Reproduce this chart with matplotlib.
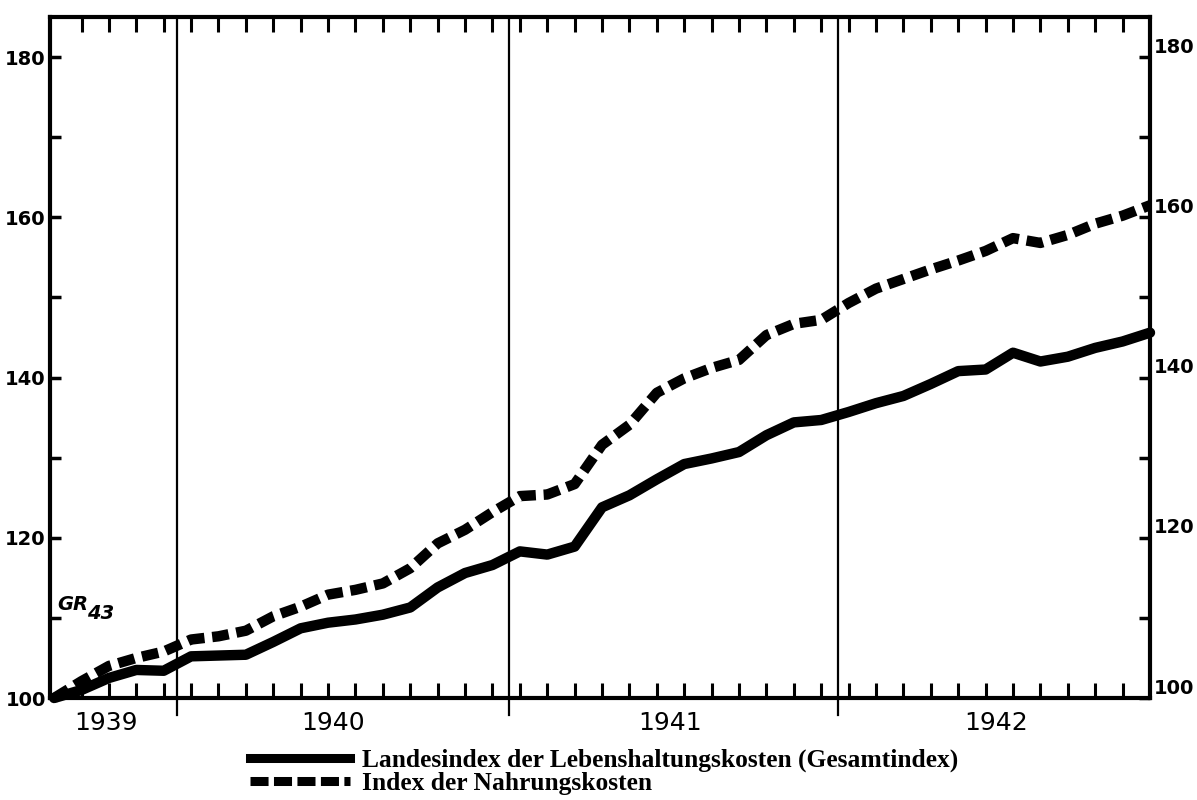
import numpy as np
import matplotlib
matplotlib.use("Agg")
import matplotlib.pyplot as plt
import matplotlib.transforms as mtransforms
from matplotlib.lines import Line2D

# months since Jan 1939, plotted at month centres (Aug 1939 .. Dec 1942)
months = np.arange(7, 48) + 0.5

# Landesindex der Lebenshaltungskosten (Gesamtindex), Aug 1939 = 100
gesamt = [100, 101, 102.5, 103.5, 103.4,
          105.2, 105.3, 105.4, 107.0, 108.7, 109.4, 109.8, 110.4, 111.3, 113.8, 115.6, 116.6,
          118.3, 117.9, 118.9, 123.8, 125.3, 127.3, 129.2, 129.9, 130.7, 132.8, 134.4, 134.7,
          135.7, 136.8, 137.7, 139.2, 140.8, 141.0, 143.1, 142.0, 142.6, 143.7, 144.5, 145.6]

# Index der Nahrungskosten
nahrung = [100, 102.1, 104.0, 105.0, 105.8,
           107.3, 107.7, 108.4, 110.2, 111.4, 112.9, 113.5, 114.3, 116.2, 119.3, 121.0, 123.2,
           125.2, 125.4, 126.7, 131.6, 134.1, 138.1, 139.9, 141.2, 142.2, 145.3, 146.7, 147.2,
           149.3, 151.1, 152.3, 153.5, 154.6, 155.8, 157.4, 156.8, 157.8, 159.2, 160.2, 161.5]

years = ["1939", "1940", "1941", "1942"]
year_label_pos = [9.4, 17.7, 30.0, 41.9]
year_lines = [12, 24.1, 36.1]

labels = ["Landesindex der Lebenshaltungskosten (Gesamtindex)",
          "Index der Nahrungskosten"]

fig = plt.figure(figsize=(11.97, 8), dpi=100)
ax = fig.add_axes([50 / 1197, 102 / 800, 1100 / 1197, 681 / 800])

ax.plot(months, gesamt, color="black", lw=7.5, solid_capstyle="round",
        solid_joinstyle="round", clip_on=False, zorder=3)
ax.plot(months, nahrung, color="black", lw=7.5, dashes=(1.6, 0.75),
        dash_capstyle="butt", dash_joinstyle="round", clip_on=False, zorder=3)

for x in year_lines:
    ax.axvline(x, ymin=-0.025, ymax=1, color="black", lw=1.6, clip_on=False)

ax.set_xlim(7.35, 47.5)
ax.set_ylim(100, 185)

for side in ["left", "right", "top", "bottom"]:
    ax.spines[side].set_linewidth(3)

# month ticks on top and bottom, pointing inward
month_ticks = np.arange(8, 47) + 0.5
ax.set_xticks(month_ticks)
ax.tick_params(axis="x", which="both", direction="in", length=11, width=2.2,
               top=True, bottom=True, labelbottom=False)

ax.set_yticks([100, 120, 140, 160, 180])
ax.set_yticks([110, 130, 150, 170], minor=True)
ax.tick_params(axis="y", which="both", direction="in", length=8, width=2.5,
               left=True, right=True, labelleft=True, labelright=True,
               labelsize=14, pad=3)

# right-hand labels sit a little higher in the original (scan skew)
shift = mtransforms.ScaledTranslation(0, 12 / 100, fig.dpi_scale_trans)
for tick in ax.yaxis.get_major_ticks():
    tick.label1.set_fontweight("bold")
    tick.label2.set_fontweight("bold")
    tick.label2.set_transform(tick.label2.get_transform() + shift)

for lab, x in zip(years, year_label_pos):
    ax.text(x, -0.036, lab, transform=ax.get_xaxis_transform(),
            ha="center", va="center", fontsize=18)

ax.text(7.6, 110.5, "GR", fontsize=14, fontweight="bold", fontstyle="italic",
        ha="left", va="bottom")
ax.text(8.7, 109.3, "43", fontsize=14, fontweight="bold", fontstyle="italic",
        ha="left", va="bottom")

handles = [Line2D([], [], color="black", lw=6.5),
           Line2D([], [], color="black", lw=6.5, dashes=(2.0, 0.6))]
fig.legend(handles, labels, loc="upper left", bbox_to_anchor=(250 / 1197, 51 / 800),
           frameon=False, handlelength=3.9, handletextpad=0.5, labelspacing=0.0,
           borderaxespad=0, borderpad=0,
           prop={"family": "Liberation Serif", "weight": "bold", "size": 18.4})

fig.savefig("out.png", dpi=100)
